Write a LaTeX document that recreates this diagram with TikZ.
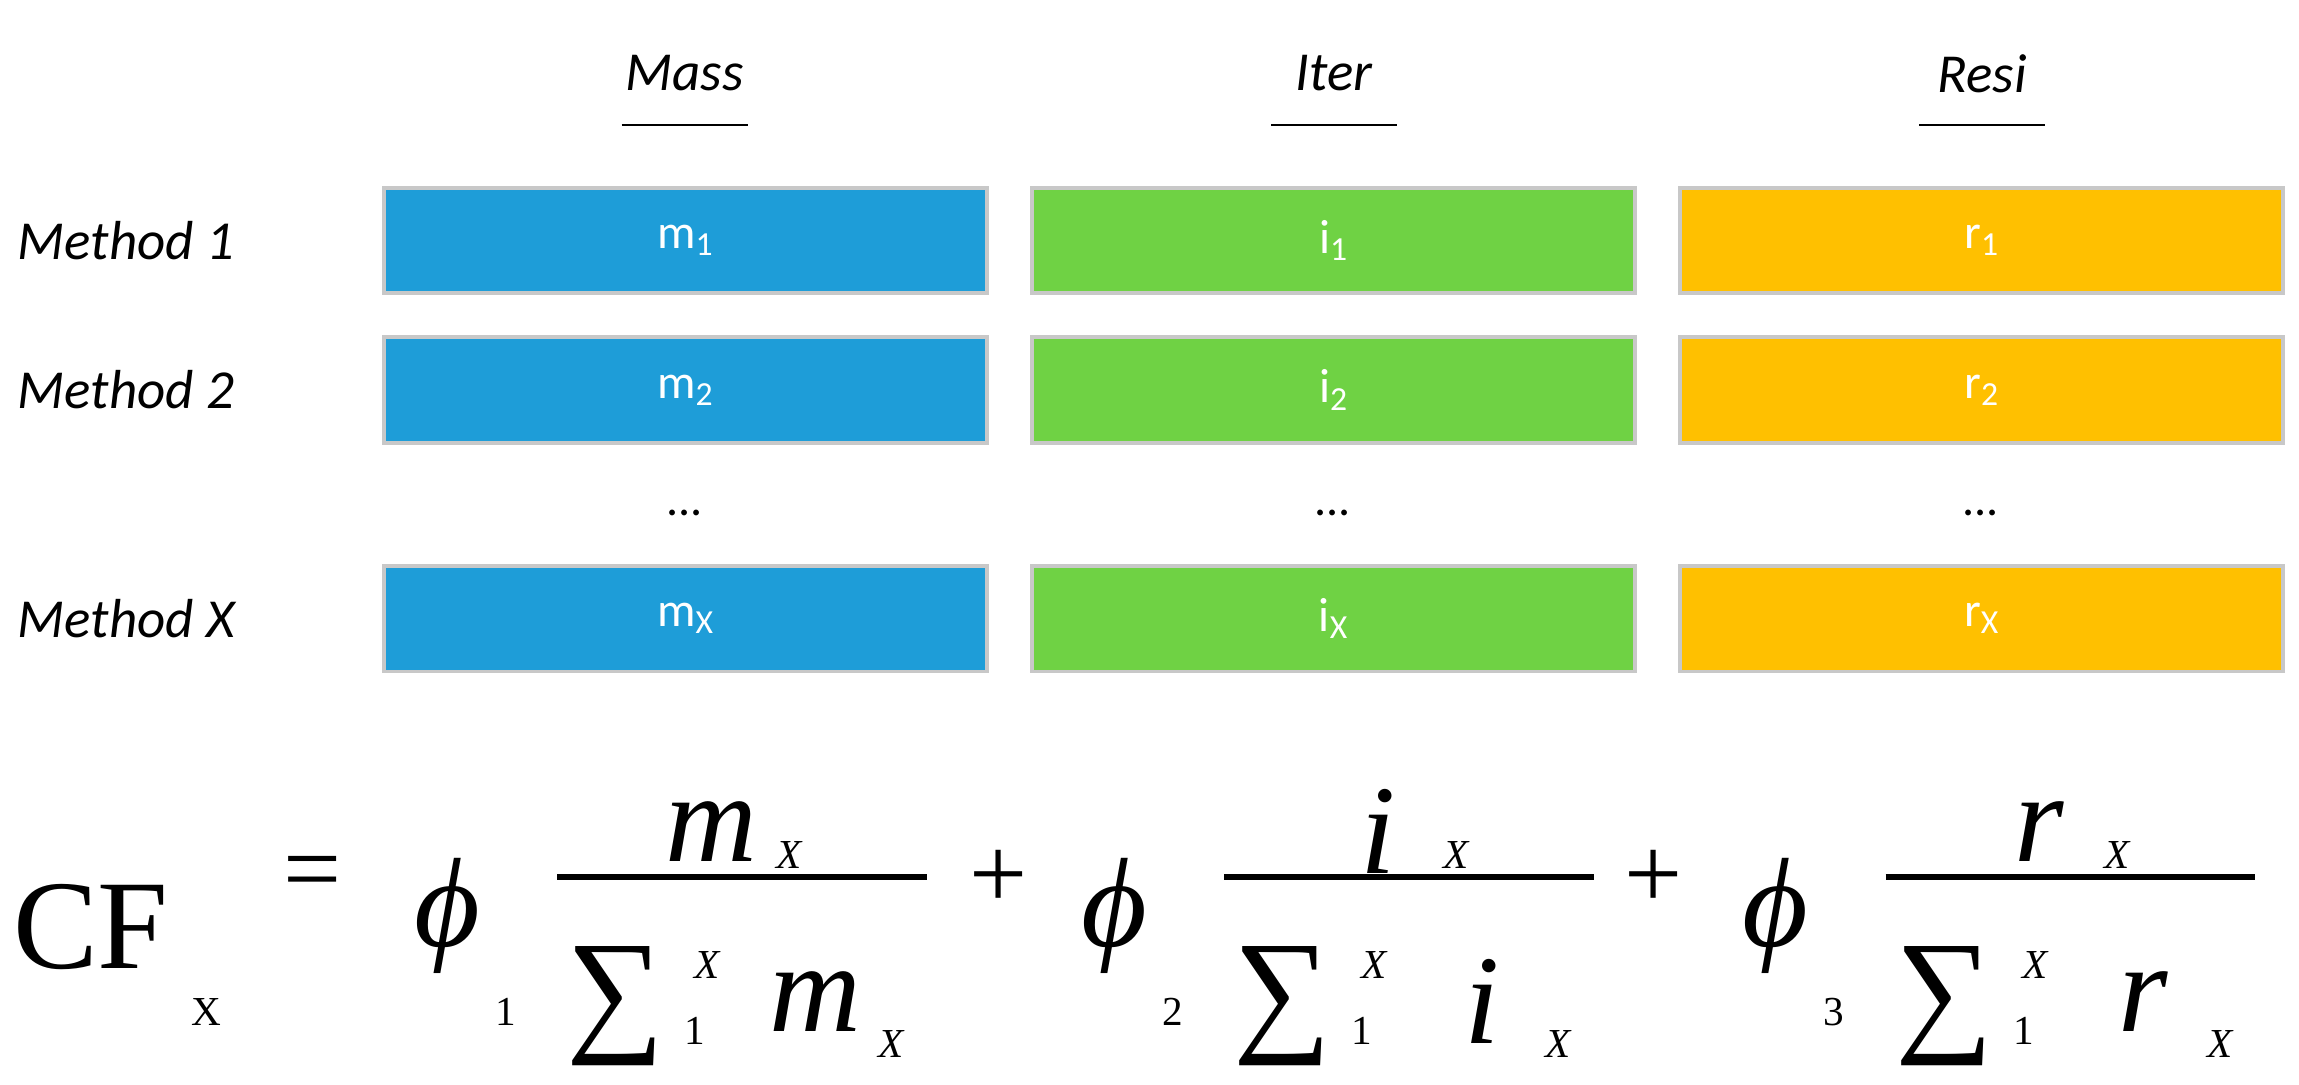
\documentclass[tikz,border=0pt]{standalone}
\usepackage{fontspec}
\setmainfont{Carlito}
\newfontfamily\fml{Liberation Serif}
\definecolor{cb}{HTML}{1E9DD8}
\definecolor{cg}{HTML}{6FD244}
\definecolor{cy}{HTML}{FFC000}
\definecolor{ce}{HTML}{C8C8C8}
\tikzset{
 box/.style={draw=ce,line width=2.2pt,minimum width=411*0.03cm,minimum height=72*0.03cm,inner sep=0,text=white,font=\fontsize{28}{30}\selectfont},
 lab/.style={anchor=west,inner sep=0,font=\fontsize{32}{34}\selectfont\itshape},
 hd/.style={inner sep=0,font=\fontsize{32}{34}\selectfont\itshape},
 big/.style={inner sep=0,font=\fontsize{74}{76}\selectfont\fml},
 bigi/.style={inner sep=0,font=\fontsize{74}{76}\selectfont\fml\itshape},
 sm/.style={inner sep=0,font=\fontsize{24}{26}\selectfont\fml},
 smi/.style={inner sep=0,font=\fontsize{24}{26}\selectfont\fml\itshape},
}
\newcommand{\fterm}[4]{%
 \begin{scope}[xshift=#1*0.03cm,name prefix=#4-]
  \node[bigi] (phi) at (305,625) {ϕ};
  \node[sm] (pn) at (345,690) {#2};
  \draw[line width=3.4pt] (380,598) coordinate (b1) -- (632,598) coordinate (b2);
  \node[bigi] (num) at (485,567) {#3};
  \node[smi] (nx) at (538,583) {X};
  \node[big,font=\fontsize{80}{80}\selectfont\fml] (sig) at (420,686) {∑};
  \node[smi] (sx) at (482,658) {X};
  \node[sm] (s1) at (474,703) {1};
  \node[bigi] (den) at (556,683) {#3};
  \node[smi] (dx) at (608,712) {X};
 \end{scope}}
\begin{document}
\begin{tikzpicture}[x=0.03cm,y=-0.03cm]
\useasboundingbox (0,0) rectangle (1568,740);
\foreach \n/\x/\t in {mass/467/Mass,iter/910/Iter,resi/1352/Resi}{
 \node[hd] (\n) at (\x,50) {\t};
 \draw[line width=1.5pt] ([yshift=-1.06cm]\n.center) ++(-43,0) -- ++(86,0);
}
\foreach \n/\y/\t in {1/164/1,2/266/2,x/422/X}{
 \node[lab] (meth\n) at (12,\y) {Method \t};
 \node[box,fill=cb] (m\n) at (467.5,\y) {m\textsubscript{\t}};
 \node[box,fill=cg] (i\n) at (909.5,\y) {i\textsubscript{\t}};
 \node[box,fill=cy] (r\n) at (1351.5,\y) {r\textsubscript{\t}};
}
\foreach \n/\x in {d1/467,d2/909,d3/1351}
 \node[font=\fontsize{28}{30}\selectfont] (\n) at (\x,350) {...};
\node[big] (cf) at (62,632) {CF};
\node[sm] (cfx) at (141,690) {X};
\node[big,font=\fontsize{60}{60}\selectfont\fml] (eq) at (213,600) {=};
\fterm{0}{1}{m}{t1}
\node[big,font=\fontsize{60}{60}\selectfont\fml] (p1) at (681,600) {+};
\fterm{455}{2}{i}{t2}
\node[big,font=\fontsize{60}{60}\selectfont\fml] (p2) at (1128,600) {+};
\fterm{906}{3}{r}{t3}
\end{tikzpicture}
\end{document}
